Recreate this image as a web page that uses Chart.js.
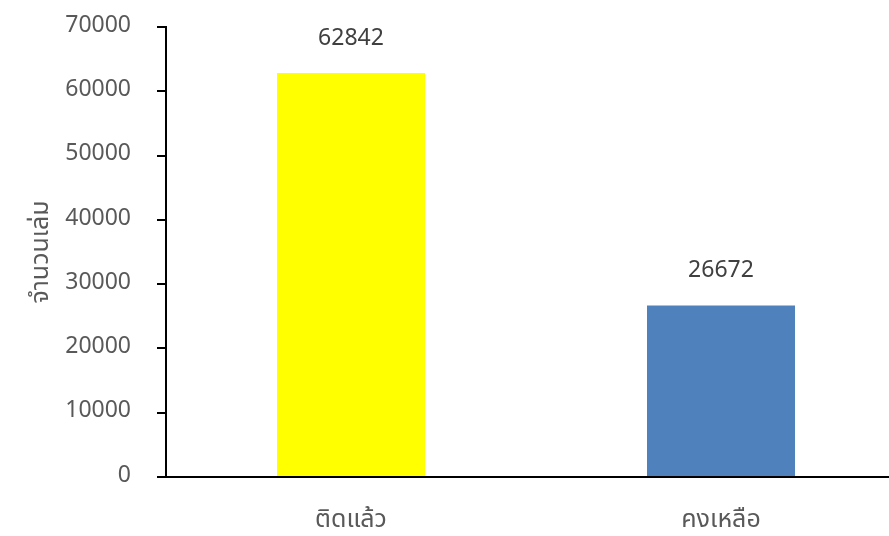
<!DOCTYPE html>
<html>
<head>
<meta charset="utf-8">
<script src="https://cdn.jsdelivr.net/npm/chart.js@4.4.1/dist/chart.umd.min.js"></script>
<style>
  html, body { margin: 0; padding: 0; background: #fff; overflow: hidden; }
  #wrap { width: 906px; height: 536px; }
</style>
</head>
<body>
<div id="wrap"><canvas id="bookChart" width="906" height="536"></canvas></div>
<script>
// Data
const categories = ['ติดแล้ว', 'คงเหลือ'];
const bookCounts = [62842, 26672];
const barColors = ['#FFFF00', '#4F81BD'];
const yTitle = 'จำนวนเล่ม';

const FONT = "'Noto Sans Thai', 'Leelawadee UI', Tahoma, 'Noto Sans', 'DejaVu Sans', sans-serif";

// value labels above the bars
const valueLabels = {
    id: 'valueLabels',
    afterDatasetsDraw(chart) {
        const ctx = chart.ctx;
        const meta = chart.getDatasetMeta(0);
        ctx.save();
        ctx.font = '23px ' + FONT;
        ctx.fillStyle = '#404040';
        ctx.textAlign = 'center';
        ctx.textBaseline = 'middle';
        meta.data.forEach((bar, i) => {
            ctx.fillText(String(bookCounts[i]), bar.x, bar.y - 33);
        });
        ctx.restore();
    }
};

const ctx = document.getElementById('bookChart').getContext('2d');
new Chart(ctx, {
    type: 'bar',
    data: {
        labels: categories,
        datasets: [{
            data: bookCounts,
            backgroundColor: barColors,
            categoryPercentage: 1,
            barPercentage: 0.4
        }]
    },
    options: {
        responsive: false,
        animation: false,
        layout: { padding: { top: 27, left: 0, right: 0, bottom: 0 } },
        plugins: {
            legend: { display: false },
            tooltip: { enabled: false }
        },
        scales: {
            x: {
                grid: { display: false, drawTicks: false },
                border: { display: true, color: '#000', width: 2 },
                ticks: {
                    color: '#595959',
                    padding: 30,
                    font: { size: 25, family: FONT }
                },
                afterFit(scale) {
                    scale.height = 59;
                    scale.paddingLeft = 0;
                    scale.paddingRight = 0;
                }
            },
            y: {
                min: 0,
                max: 70000,
                ticks: {
                    stepSize: 10000,
                    color: '#595959',
                    padding: 26,
                    font: { size: 23, family: FONT },
                    callback: (v) => String(v)
                },
                grid: {
                    drawOnChartArea: false,
                    color: '#000',
                    lineWidth: 2,
                    tickLength: 9
                },
                border: { display: true, color: '#000', width: 2 },
                title: {
                    display: true,
                    text: yTitle,
                    color: '#595959',
                    padding: { top: 28, bottom: 0 },
                    font: { size: 25, family: FONT }
                },
                afterFit(scale) {
                    scale.width = 166;
                    scale.paddingTop = 0;
                    scale.paddingBottom = 0;
                }
            }
        }
    },
    plugins: [valueLabels]
});
</script>
</body>
</html>
